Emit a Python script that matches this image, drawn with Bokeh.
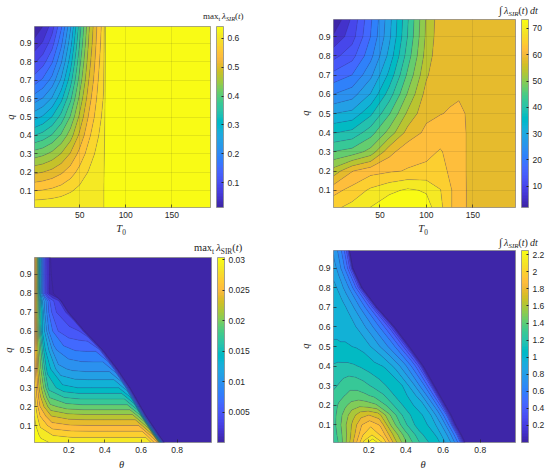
import numpy as np
from bokeh.plotting import figure
from bokeh.models import LinearColorMapper, ColorBar, FixedTicker, Div
from bokeh.layouts import column, row
from bokeh.embed import file_html
from bokeh.resources import INLINE

# ---------------- values ----------------
q_ticks = [0.1, 0.2, 0.3, 0.4, 0.5, 0.6, 0.7, 0.8, 0.9]
q_tick_labels = ["0.1", "0.2", "0.3", "0.4", "0.5", "0.6", "0.7", "0.8", "0.9"]
t0_ticks = [50, 100, 150]
t0_tick_labels = ["50", "100", "150"]
theta_ticks = [0.2, 0.4, 0.6, 0.8]
theta_tick_labels = ["0.2", "0.4", "0.6", "0.8"]

# (a) max_t lambda_SIR(t) over T0 (columns) and q (rows)
a_T0 = [1, 10, 20, 30, 40, 50, 60, 70, 76, 79, 120, 192]
a_q = [0.01, 0.05, 0.1, 0.2, 0.3, 0.4, 0.5, 0.6, 0.7, 0.8, 0.9, 0.99]
a_max_lambda = [
    [0.605, 0.606, 0.607, 0.608, 0.609, 0.610, 0.611, 0.612, 0.612, 0.640, 0.640, 0.640],
    [0.585, 0.587, 0.590, 0.594, 0.600, 0.605, 0.609, 0.611, 0.612, 0.640, 0.640, 0.640],
    [0.555, 0.558, 0.563, 0.571, 0.582, 0.594, 0.604, 0.610, 0.612, 0.640, 0.640, 0.640],
    [0.490, 0.496, 0.506, 0.521, 0.541, 0.566, 0.588, 0.604, 0.610, 0.640, 0.640, 0.640],
    [0.420, 0.428, 0.444, 0.467, 0.498, 0.535, 0.569, 0.595, 0.606, 0.640, 0.640, 0.640],
    [0.345, 0.357, 0.378, 0.410, 0.451, 0.502, 0.549, 0.583, 0.600, 0.640, 0.640, 0.640],
    [0.275, 0.289, 0.316, 0.356, 0.408, 0.472, 0.529, 0.573, 0.593, 0.640, 0.640, 0.640],
    [0.210, 0.227, 0.258, 0.306, 0.368, 0.443, 0.512, 0.563, 0.587, 0.640, 0.640, 0.640],
    [0.150, 0.170, 0.205, 0.260, 0.331, 0.417, 0.495, 0.554, 0.582, 0.640, 0.640, 0.640],
    [0.100, 0.122, 0.161, 0.221, 0.300, 0.395, 0.482, 0.547, 0.577, 0.640, 0.640, 0.640],
    [0.055, 0.078, 0.121, 0.187, 0.272, 0.375, 0.469, 0.540, 0.573, 0.640, 0.640, 0.640],
    [0.020, 0.045, 0.090, 0.160, 0.250, 0.360, 0.460, 0.535, 0.570, 0.640, 0.640, 0.640],
]
a_cbar_ticks = [0.1, 0.2, 0.3, 0.4, 0.5, 0.6]
a_cbar_labels = ["0.1", "0.2", "0.3", "0.4", "0.5", "0.6"]

# (b) integral of lambda_SIR(t) dt over T0 and q
b_T0 = [0, 20, 40, 60, 80, 100, 115, 125, 135, 145, 196]
b_q = [0.01, 0.1, 0.2, 0.3, 0.4, 0.5, 0.6, 0.7, 0.8, 0.9, 0.99]
b_int_lambda = [
    [65.5, 67.5, 70.0, 72.5, 73.4, 71.5, 67.5, 63.0, 62.0, 58.5, 58.5],
    [61.5, 64.0, 67.0, 69.0, 70.5, 69.5, 66.5, 63.0, 62.0, 58.5, 58.5],
    [53.5, 59.0, 61.5, 62.3, 63.0, 63.5, 63.5, 62.5, 61.5, 58.5, 58.5],
    [45.0, 46.3, 49.8, 58.0, 61.5, 62.0, 63.0, 62.0, 61.5, 58.5, 58.5],
    [37.5, 38.8, 43.3, 49.8, 57.0, 60.0, 61.5, 61.5, 61.5, 58.5, 58.5],
    [30.5, 31.6, 36.9, 44.5, 52.8, 58.3, 59.0, 59.5, 60.5, 58.5, 58.5],
    [23.4, 25.4, 30.8, 39.4, 48.9, 57.0, 58.5, 58.5, 58.5, 58.5, 58.5],
    [17.4, 19.9, 26.1, 35.1, 45.7, 55.1, 58.5, 58.5, 58.5, 58.5, 58.5],
    [11.5, 14.9, 22.3, 31.7, 43.1, 53.6, 58.3, 58.5, 58.5, 58.5, 58.5],
    [6.0, 11.1, 19.9, 29.7, 41.5, 52.8, 57.9, 58.5, 58.5, 58.5, 58.5],
    [2.0, 9.8, 19.2, 29.2, 41.0, 52.5, 57.7, 58.5, 58.5, 58.5, 58.5],
]
b_cbar_ticks = [10, 20, 30, 40, 50, 60, 70]
b_cbar_labels = ["10", "20", "30", "40", "50", "60", "70"]

# (c) max_t lambda_SIR(t) over theta and q.  For each q row: the theta where the
# value falls to zero (edge of the dark region) and the values at fractions of
# the way from theta=0.01 to that edge.
c_q = [0.01, 0.05, 0.10, 0.15, 0.20, 0.25, 0.30, 0.40, 0.50, 0.60, 0.70, 0.76, 0.80, 0.90, 0.99]
c_theta_edge = [0.73, 0.70, 0.665, 0.63, 0.60, 0.57, 0.54, 0.47, 0.39, 0.29, 0.20, 0.16, 0.12, 0.105, 0.10]
c_fraction = [0, 0.05, 0.15, 0.3, 0.45, 0.6, 0.75, 0.88, 0.95, 1.0]
c_max_lambda = [
    [0.0304, 0.0295, 0.0287, 0.0285, 0.0285, 0.0285, 0.0285, 0.0285, 0.0242, 0],
    [0.0300, 0.0286, 0.0274, 0.0270, 0.0270, 0.0270, 0.0270, 0.0270, 0.0230, 0],
    [0.0295, 0.0272, 0.0252, 0.0246, 0.0245, 0.0245, 0.0245, 0.0245, 0.0208, 0],
    [0.0290, 0.0260, 0.0230, 0.0222, 0.0220, 0.0220, 0.0220, 0.0220, 0.0187, 0],
    [0.0285, 0.0246, 0.0205, 0.0193, 0.0190, 0.0190, 0.0190, 0.0190, 0.0162, 0],
    [0.0280, 0.0236, 0.0184, 0.0169, 0.0165, 0.0165, 0.0165, 0.0165, 0.0140, 0],
    [0.0278, 0.0228, 0.0165, 0.0145, 0.0140, 0.0140, 0.0140, 0.0140, 0.0119, 0],
    [0.0270, 0.0218, 0.0151, 0.0114, 0.0107, 0.0105, 0.0105, 0.0105, 0.0089, 0],
    [0.0265, 0.0216, 0.0143, 0.0097, 0.0084, 0.0079, 0.0078, 0.0078, 0.0066, 0],
    [0.0260, 0.0220, 0.0142, 0.0089, 0.0066, 0.0057, 0.0053, 0.0050, 0.0043, 0],
    [0.0260, 0.0230, 0.0170, 0.0110, 0.0071, 0.0053, 0.0041, 0.0038, 0.0030, 0],
    [0.0260, 0.0235, 0.0186, 0.0122, 0.0090, 0.0058, 0.0047, 0.0038, 0.0028, 0],
    [0.0260, 0.0244, 0.0204, 0.0130, 0.0075, 0.0038, 0.0017, 0.0008, 0.0005, 0],
    [0.0260, 0.0246, 0.0214, 0.0148, 0.0097, 0.0056, 0.0029, 0.0017, 0.0011, 0],
    [0.0258, 0.0244, 0.0214, 0.0154, 0.0104, 0.0064, 0.0035, 0.0021, 0.0015, 0],
]
c_cbar_ticks = [0.005, 0.01, 0.015, 0.02, 0.025, 0.03]
c_cbar_labels = ["0.005", "0.01", "0.015", "0.02", "0.025", "0.03"]

# (d) integral of lambda_SIR(t) dt over theta and q (same row description)
d_q = [0.01, 0.05, 0.10, 0.15, 0.20, 0.25, 0.30, 0.40, 0.50, 0.60, 0.70, 0.80, 0.90, 0.99]
d_theta_edge = [0.72, 0.70, 0.67, 0.645, 0.615, 0.585, 0.555, 0.495, 0.42, 0.34, 0.245, 0.165, 0.115, 0.097]
d_fraction = [0, 0.05, 0.1, 0.16, 0.23, 0.3, 0.38, 0.47, 0.57, 0.68, 0.8, 0.9, 0.96, 1.0]
d_int_lambda = [
    [1.25, 1.38, 1.56, 1.79, 2.08, 2.25, 2.03, 1.68, 1.40, 1.19, 1.05, 0.81, 0.56, 0],
    [1.28, 1.40, 1.54, 1.73, 1.95, 2.05, 1.92, 1.63, 1.37, 1.16, 1.03, 0.80, 0.55, 0],
    [1.30, 1.42, 1.54, 1.68, 1.85, 1.93, 1.84, 1.53, 1.29, 1.11, 1.01, 0.79, 0.54, 0],
    [1.30, 1.40, 1.50, 1.61, 1.71, 1.75, 1.70, 1.47, 1.26, 1.10, 1.00, 0.75, 0.52, 0],
    [1.30, 1.36, 1.42, 1.49, 1.52, 1.50, 1.46, 1.34, 1.19, 1.07, 0.95, 0.71, 0.49, 0],
    [1.27, 1.31, 1.34, 1.37, 1.38, 1.36, 1.32, 1.25, 1.14, 1.05, 0.90, 0.67, 0.45, 0],
    [1.22, 1.25, 1.29, 1.32, 1.31, 1.28, 1.23, 1.18, 1.10, 1.04, 0.84, 0.63, 0.42, 0],
    [1.15, 1.16, 1.16, 1.16, 1.15, 1.13, 1.10, 1.06, 1.03, 0.91, 0.75, 0.56, 0.37, 0],
    [1.06, 1.06, 1.05, 1.05, 1.04, 1.03, 1.01, 0.95, 0.87, 0.77, 0.64, 0.47, 0.29, 0],
    [1.00, 1.00, 1.00, 1.00, 1.00, 0.97, 0.93, 0.87, 0.80, 0.70, 0.58, 0.42, 0.26, 0],
    [1.00, 1.00, 1.00, 0.99, 0.96, 0.93, 0.89, 0.83, 0.76, 0.67, 0.56, 0.41, 0.24, 0],
    [0.97, 0.96, 0.94, 0.92, 0.89, 0.86, 0.81, 0.77, 0.71, 0.62, 0.51, 0.37, 0.19, 0],
    [0.88, 0.86, 0.85, 0.83, 0.80, 0.77, 0.73, 0.68, 0.63, 0.56, 0.46, 0.33, 0.18, 0],
    [0.82, 0.80, 0.78, 0.77, 0.74, 0.71, 0.67, 0.64, 0.58, 0.52, 0.42, 0.30, 0.15, 0],
]
d_cbar_ticks = [0.2, 0.4, 0.6, 0.8, 1.0, 1.2, 1.4, 1.6, 1.8, 2.0, 2.2]
d_cbar_labels = ["0.2", "0.4", "0.6", "0.8", "1", "1.2", "1.4", "1.6", "1.8", "2", "2.2"]

# ---------------- styling ----------------
PARULA = [
    (0.2422, 0.1504, 0.6603), (0.2504, 0.1650, 0.7076), (0.2578, 0.1818, 0.7511), (0.2647, 0.1978, 0.7952),
    (0.2706, 0.2147, 0.8364), (0.2751, 0.2342, 0.8710), (0.2783, 0.2559, 0.8991), (0.2803, 0.2782, 0.9221),
    (0.2813, 0.3006, 0.9414), (0.2810, 0.3228, 0.9579), (0.2795, 0.3447, 0.9717), (0.2760, 0.3667, 0.9829),
    (0.2699, 0.3892, 0.9906), (0.2602, 0.4123, 0.9952), (0.2440, 0.4358, 0.9988), (0.2206, 0.4603, 0.9973),
    (0.1963, 0.4847, 0.9892), (0.1834, 0.5074, 0.9798), (0.1786, 0.5289, 0.9682), (0.1764, 0.5499, 0.9520),
    (0.1687, 0.5703, 0.9359), (0.1540, 0.5902, 0.9218), (0.1460, 0.6091, 0.9079), (0.1380, 0.6276, 0.8973),
    (0.1248, 0.6459, 0.8883), (0.1113, 0.6635, 0.8763), (0.0952, 0.6798, 0.8598), (0.0689, 0.6948, 0.8394),
    (0.0297, 0.7082, 0.8163), (0.0036, 0.7203, 0.7917), (0.0067, 0.7312, 0.7660), (0.0433, 0.7411, 0.7394),
    (0.0964, 0.7500, 0.7120), (0.1408, 0.7584, 0.6842), (0.1717, 0.7670, 0.6554), (0.1938, 0.7758, 0.6251),
    (0.2161, 0.7843, 0.5923), (0.2470, 0.7918, 0.5567), (0.2906, 0.7973, 0.5188), (0.3406, 0.8008, 0.4789),
    (0.3909, 0.8029, 0.4354), (0.4456, 0.8024, 0.3909), (0.5044, 0.7993, 0.3480), (0.5616, 0.7942, 0.3045),
    (0.6174, 0.7876, 0.2612), (0.6720, 0.7793, 0.2227), (0.7242, 0.7698, 0.1910), (0.7738, 0.7598, 0.1646),
    (0.8203, 0.7498, 0.1535), (0.8634, 0.7406, 0.1596), (0.9035, 0.7330, 0.1774), (0.9393, 0.7288, 0.2100),
    (0.9728, 0.7298, 0.2394), (0.9956, 0.7434, 0.2371), (0.9970, 0.7659, 0.2199), (0.9952, 0.7893, 0.2028),
    (0.9892, 0.8136, 0.1885), (0.9786, 0.8386, 0.1766), (0.9676, 0.8639, 0.1643), (0.9610, 0.8890, 0.1537),
    (0.9597, 0.9135, 0.1423), (0.9628, 0.9373, 0.1265), (0.9691, 0.9606, 0.1064), (0.9769, 0.9839, 0.0805),
]
PAL = ["#%02x%02x%02x" % tuple(int(round(c * 255)) for c in rgb) for rgb in PARULA]
TXT = "#262626"
SANS = "Liberation Sans"


def band_colors(n):
    return [PAL[int(round(i * (len(PAL) - 1) / (n - 1)))] for i in range(n)]


def edge_grid(qs, edges, fractions, rows):
    """Curvilinear grid: each q row runs from theta=0.01 to its edge, then to 0.99."""
    xs, ys, zs = [], [], []
    for q, e, vals in zip(qs, edges, rows):
        xs.append([0.01 + (e - 0.01) * f for f in fractions] + [0.99])
        ys.append([q] * (len(fractions) + 1))
        zs.append(list(vals) + [0.0])
    return np.array(xs), np.array(ys), np.array(zs, dtype=float)


def panel(xs, ys, zs, x_range, lo, hi, nb, width, height, left, top, fw, fh,
          xticks, xlabels, cb_lo, cb_hi, cb_ticks, cb_labels, grid):
    p = figure(width=width, height=height, x_range=x_range, y_range=(0.01, 0.99),
               output_backend="svg", toolbar_location=None,
               min_border_left=left, min_border_top=top,
               min_border_right=width - left - fw, min_border_bottom=height - top - fh)
    p.background_fill_color = PAL[0]
    p.border_fill_color = "white"
    p.outline_line_color = "#8a8a8a"
    p.outline_line_width = 0.8
    levels = list(np.linspace(lo, hi, nb + 1))
    p.contour(xs, ys, np.array(zs, dtype=float), levels, fill_color=band_colors(nb),
              line_color="#303030", line_alpha=0.3, line_width=0.5)
    p.xaxis.ticker = FixedTicker(ticks=xticks)
    p.xaxis.major_label_overrides = dict(zip(xticks, xlabels))
    p.yaxis.ticker = FixedTicker(ticks=q_ticks)
    p.yaxis.major_label_overrides = dict(zip(q_ticks, q_tick_labels))
    for ax in (p.xaxis[0], p.yaxis[0]):
        ax.axis_line_color = None
        ax.major_tick_in = 3
        ax.major_tick_out = 0
        ax.major_tick_line_color = TXT
        ax.major_tick_line_width = 0.7
        ax.minor_tick_line_color = None
        ax.major_label_text_font = SANS
        ax.major_label_text_font_size = "8.5px"
        ax.major_label_text_color = TXT
    p.xaxis.major_label_standoff = 4
    p.yaxis.major_label_standoff = 3
    if grid:
        for g in (p.xgrid[0], p.ygrid[0]):
            g.grid_line_color = TXT
            g.grid_line_alpha = 0.13
            g.grid_line_width = 0.8
            g.level = "overlay"
    else:
        p.xgrid.visible = False
        p.ygrid.visible = False
    mapper = LinearColorMapper(palette=PAL, low=cb_lo, high=cb_hi)
    cb = ColorBar(color_mapper=mapper, location=(fw + 4, 0), orientation="vertical",
                  width=7, height=fh, padding=0, margin=0,
                  ticker=FixedTicker(ticks=cb_ticks),
                  major_label_overrides=dict(zip(cb_ticks, cb_labels)),
                  major_label_text_font=SANS, major_label_text_font_size="8.5px",
                  major_label_text_color=TXT, major_tick_in=2, major_tick_out=0,
                  major_tick_line_color=TXT, minor_tick_line_color=None, label_standoff=4,
                  bar_line_color="#8a8a8a", bar_line_width=0.8,
                  background_fill_alpha=0, border_line_color=None)
    p.add_layout(cb)
    return p


def span(left, baseline, size, inner):
    top = baseline - 0.84 * size
    return ('<span style="position:absolute;left:%.1fpx;top:%.1fpx;font-family:\'Liberation Serif\';'
            'font-size:%.1fpx;line-height:1;color:#262626;white-space:nowrap;">%s</span>'
            % (left, top, size, inner))


def vspan(cx, cy, size, inner):
    w = 10
    return ('<span style="position:absolute;left:%.1fpx;top:%.1fpx;width:%dpx;height:%dpx;'
            'font-family:\'Liberation Serif\';font-style:italic;font-size:%.1fpx;line-height:1;'
            'text-align:center;color:#262626;transform:rotate(-90deg);">%s</span>'
            % (cx - w / 2, cy - w / 2, w, w, size, inner))


def html_div(width, height, spans):
    html = (('<div style="position:relative;width:%dpx;height:%dpx;">' % (width, height))
            + "".join(spans) + '</div>')
    return Div(text=html, width=width, height=height, margin=(0, 0, 0, 0))


SUB = '<sub style="font-size:0.7em;vertical-align:-0.35em;line-height:1">%s</sub>'
MAX_TITLE = 'max' + SUB % 't' + '&#8201;<i>&#955;</i>' + SUB % '<i>SIR</i>' + '(<i>t</i>)'
MAX_TITLE_RM = 'max' + SUB % 't' + '&#8201;<i>&#955;</i>' + SUB % 'SIR' + '(<i>t</i>)'
INT_TITLE = ('<span style="font-size:1.1em">&#8747;</span>&#8201;<i>&#955;</i>' + SUB % '<i>SIR</i>'
             + '(<i>t</i>)&#8201;<i>dt</i>')
T0_LABEL = '<i>T</i>' + SUB % '0'
THETA_LABEL = '<i>&#952;</i>'

# ----- block A (top left): page x 0..275, y 0..235; frame 32..210 x 26..207
pa = panel(a_T0, a_q, a_max_lambda, (1, 192), 0.015, 0.645, 21, 259, 201, 16, 3, 178, 181,
           t0_ticks, t0_tick_labels, 0.015, 0.64, a_cbar_ticks, a_cbar_labels, True)
block_a = column(html_div(275, 23, [span(203, 19.5, 9, MAX_TITLE)]),
                 row(html_div(16, 201, [vspan(10.5, 94, 10.5, "q")]), pa),
                 html_div(275, 11, [span(116.3, 7.5, 10.5, T0_LABEL)]))

# ----- block B (top right): page x 275..549; frame 331..515 x 19..207
pb = panel(b_T0, b_q, b_int_lambda, (0, 196), 1.9, 73.5, 20, 234, 207, 16, 2, 184, 188,
           t0_ticks, t0_tick_labels, 1.9, 73.4, b_cbar_ticks, b_cbar_labels, True)
block_b = column(html_div(274, 17, [span(224, 13.5, 10, INT_TITLE)]),
                 row(html_div(40, 207, [vspan(30.5, 96, 10.5, "q")]), pb),
                 html_div(274, 11, [span(143.3, 7.5, 10.5, T0_LABEL)]))

# ----- block C (bottom left): page y 235..469; frame 32..211 x 257..442
cx, cy, cz = edge_grid(c_q, c_theta_edge, c_fraction, c_max_lambda)
pc = panel(cx, cy, cz, (0.01, 0.99), 0.0005, 0.0305, 20, 259, 204, 16, 2, 179, 185,
           theta_ticks, theta_tick_labels, 0.0, 0.0304, c_cbar_ticks, c_cbar_labels, False)
block_c = column(html_div(275, 20, [span(194, 17, 10.5, MAX_TITLE_RM)]),
                 row(html_div(16, 204, [vspan(8.5, 94.5, 10.5, "q")]), pc),
                 html_div(275, 10, [span(118.9, 7.5, 10.5, THETA_LABEL)]))

# ----- block D (bottom right): frame 331..515 x 250..442
dx, dy, dz = edge_grid(d_q, d_theta_edge, d_fraction, d_int_lambda)
pd_ = panel(dx, dy, dz, (0.01, 0.99), 0.02, 2.26, 22, 234, 211, 16, 2, 184, 192,
            theta_ticks, theta_tick_labels, 0.0, 2.25, d_cbar_ticks, d_cbar_labels, False)
block_d = column(html_div(274, 13, [span(224, 10, 10, INT_TITLE)]),
                 row(html_div(40, 211, [vspan(30.5, 98, 10.5, "q")]), pd_),
                 html_div(274, 10, [span(145.4, 7.5, 10.5, THETA_LABEL)]))

layout = column(row(block_a, block_b), row(block_c, block_d))
open("out.html", "w").write(file_html(layout, INLINE))
